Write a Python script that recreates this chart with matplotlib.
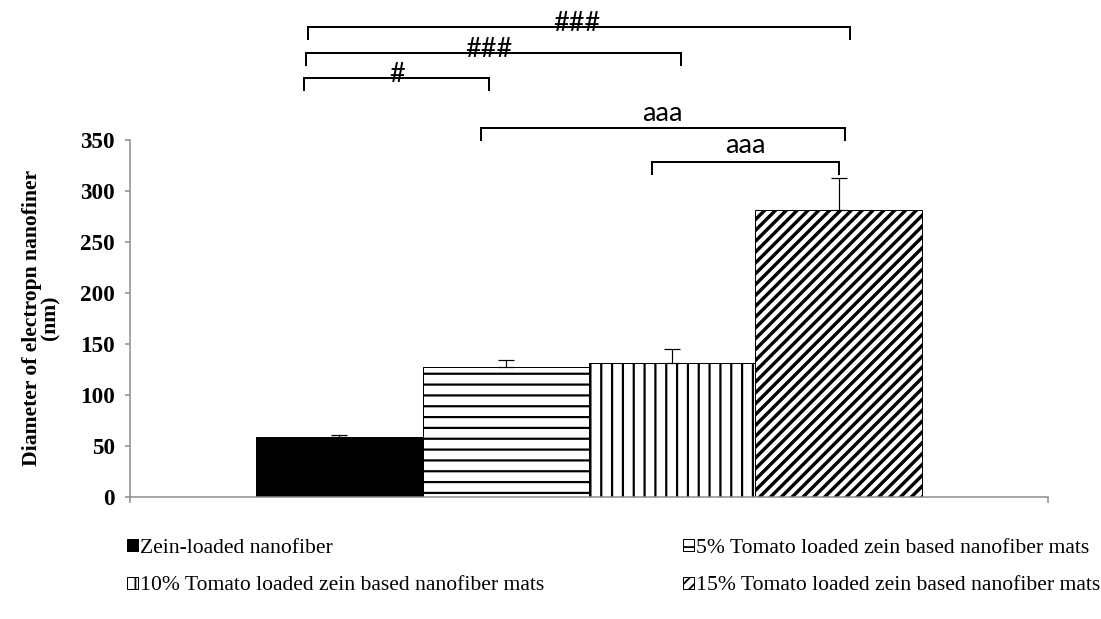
import numpy as np
import matplotlib
matplotlib.use("Agg")
import matplotlib.pyplot as plt

# Data
groups = ["Zein-loaded nanofiber",
          "5% Tomato loaded zein based nanofiber mats",
          "10% Tomato loaded zein based nanofiber mats",
          "15% Tomato loaded zein based nanofiber mats"]
diameter = [58.7, 127.3, 131.2, 281.0]
err_up = [2.0, 7.0, 14.0, 31.0]
yticks = [0, 50, 100, 150, 200, 250, 300, 350]
ylabel = "Diameter of electropn nanofiner\n(nm)"

# significance brackets: (x1, x2, y, label, label_x, label_dy)
brackets = [(-0.19, 3.07, 460.0, "###", 1.43, -4.0),
            (-0.20, 2.05, 434.7, "###", 0.90, -4.0),
            (-0.21, 0.90, 410.2, "#", 0.35, -4.0),
            (0.85, 3.04, 361.3, "aaa", 1.94, 7.0),
            (1.88, 3.00, 328.0, "aaa", 2.44, 9.0)]

DPI = 130
px = 72.0 / DPI  # one pixel in points

fig = plt.figure(figsize=(1101 / DPI, 619 / DPI), dpi=DPI)
ax = fig.add_axes([130 / 1101, 1 - 497 / 619, 918 / 1101, 357.5 / 619])

styles = [dict(color="black", hatch=None, hlw=1.0),
          dict(color="white", hatch="--", hlw=2.2),
          dict(color="white", hatch="||", hlw=2.2),
          dict(color="white", hatch="////", hlw=3.4)]

x = np.arange(len(groups))
bars = []
for i, st in enumerate(styles):
    with plt.rc_context({"hatch.linewidth": st["hlw"] * px, "hatch.color": "black"}):
        b = ax.bar(x[i], diameter[i], width=1.0, color=st["color"], edgecolor="black",
                   linewidth=1.0 * px, hatch=st["hatch"], label=groups[i], zorder=2)
        for p in b:
            if hasattr(p, "set_hatch_linewidth"):
                p.set_hatch_linewidth(st["hlw"] * px)
    bars.append(b)

ax.errorbar(x, diameter, yerr=[np.zeros(len(err_up)), err_up], fmt="none",
            ecolor="black", elinewidth=1.2 * px, capsize=4.5,
            capthick=1.2 * px, zorder=3)

ax.set_xlim(-1.257, 4.257)
ax.set_ylim(0, 350)
ax.set_yticks(yticks)
ax.set_yticklabels([str(t) for t in yticks], fontfamily="Liberation Serif",
                   fontweight="bold", fontsize=12.8)
ax.set_xticks([-1.257, 4.257])
ax.set_xticklabels(["", ""])
for s in ["top", "right"]:
    ax.spines[s].set_visible(False)
for s in ["left", "bottom"]:
    ax.spines[s].set_color("#8c8c8c")
    ax.spines[s].set_linewidth(1.5 * px)
ax.tick_params(axis="y", length=5 * px, width=1.5 * px, color="#8c8c8c", pad=10 * px)
ax.tick_params(axis="x", length=6 * px, width=1.5 * px, color="#8c8c8c")

ax.set_ylabel(ylabel, fontfamily="Liberation Serif", fontweight="bold",
              fontsize=12, linespacing=0.85, labelpad=20 * px)

drop = 11.7
for x1, x2, yb, lab, lx, dy in brackets:
    ax.plot([x1, x1, x2, x2], [yb - drop, yb, yb, yb - drop], color="black",
            linewidth=2.0 * px, clip_on=False, solid_joinstyle="miter")
    ax.text(lx, yb + dy, lab, ha="center", va="baseline", fontfamily="Lato",
            fontsize=15, clip_on=False)

# legend in two columns
handles = [b.patches[0] for b in bars]
leg_kw = dict(loc="upper left", frameon=False, handlelength=0.5, handleheight=0.5,
              handletextpad=0.12, labelspacing=0.85, borderaxespad=0, borderpad=0,
              prop={"family": "Liberation Serif", "size": 12})
leg1 = fig.legend([handles[0], handles[2]], [groups[0], groups[2]],
                  bbox_to_anchor=(127 / 1101, 1 - 539 / 619), **leg_kw)
leg2 = fig.legend([handles[1], handles[3]], [groups[1], groups[3]],
                  bbox_to_anchor=(683 / 1101, 1 - 539 / 619), **leg_kw)

fig.savefig("out.png", dpi=DPI)
